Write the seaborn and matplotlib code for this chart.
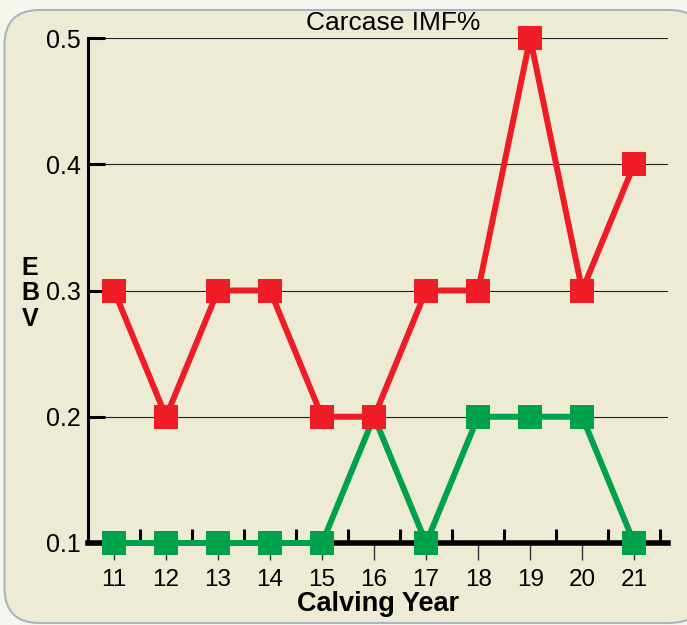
import matplotlib.pyplot as plt
import pandas as pd
import seaborn as sns
from matplotlib.patches import FancyBboxPatch
from matplotlib.transforms import IdentityTransform
from matplotlib.ticker import MultipleLocator

years = [11, 12, 13, 14, 15, 16, 17, 18, 19, 20, 21]
red_ebv = [0.3, 0.2, 0.3, 0.3, 0.2, 0.2, 0.3, 0.3, 0.5, 0.3, 0.4]
green_ebv = [0.1, 0.1, 0.1, 0.1, 0.1, 0.2, 0.1, 0.2, 0.2, 0.2, 0.1]
y_ticks = [0.1, 0.2, 0.3, 0.4, 0.5]

df = pd.concat([
    pd.DataFrame({"year": years, "ebv": green_ebv, "series": "green"}),
    pd.DataFrame({"year": years, "ebv": red_ebv, "series": "red"}),
])

sns.set_style("white")
plt.rcParams["font.family"] = ["Liberation Sans", "DejaVu Sans"]
plt.rcParams["text.color"] = "black"
plt.rcParams["axes.labelcolor"] = "black"
plt.rcParams["xtick.color"] = "black"
plt.rcParams["ytick.color"] = "black"

fig = plt.figure(figsize=(6.87, 6.25), dpi=100, facecolor="#F7F6EE")
# rounded panel behind the chart
panel = FancyBboxPatch((4.5, 2), 700, 613, boxstyle="round,pad=0,rounding_size=35",
                       transform=IdentityTransform(), facecolor="#EEEBD5",
                       edgecolor="#A9B4C2", linewidth=1.5, zorder=-10)
fig.patches.append(panel)

ax = fig.add_axes([88 / 687, 82 / 625, (668 - 88) / 687, 505 / 625])
ax.set_facecolor("none")
ax.set_zorder(1)

sns.lineplot(data=df, x="year", y="ebv", hue="series", hue_order=["green", "red"],
             palette={"green": "#00A14B", "red": "#EE1C25"}, marker="s",
             markersize=17, markeredgewidth=0, linewidth=4.3, legend=False,
             clip_on=False, zorder=4, ax=ax)

ax.set_xlim(10.5, 21.65)
ax.set_ylim(0.1, 0.5)
ax.set_xticks(years)
ax.set_yticks(y_ticks)
ax.xaxis.set_minor_locator(MultipleLocator(1, offset=0.5))
ax.set_yticklabels([f"{v:.1f}" for v in y_ticks])

for s in ["top", "right"]:
    ax.spines[s].set_visible(False)
ax.spines["bottom"].set_linewidth(4)
ax.spines["bottom"].set_color("black")
ax.spines["left"].set_linewidth(2.2)
ax.spines["left"].set_color("black")
ax.spines["bottom"].set_zorder(3)

ax.yaxis.grid(True, color="#222222", linewidth=0.8)
ax.set_axisbelow(True)

ax.tick_params(axis="x", which="major", direction="out", length=12, width=1,
               color="#333333", labelsize=17.5, pad=7, bottom=True)
ax.tick_params(axis="x", which="minor", direction="in", length=10, width=2.2,
               color="black", bottom=True)
ax.tick_params(axis="y", which="major", direction="in", length=12, width=2.2,
               color="black", labelsize=18, pad=5, left=True)

ax.set_xlabel("Calving Year", fontsize=19.5, fontweight="bold", labelpad=0)
ax.set_ylabel("E\nB\nV", rotation=0, fontsize=18, fontweight="bold",
              linespacing=1.08, va="center", ha="center")
ax.yaxis.set_label_coords(-0.10, 0.495)
fig.text(393 / 687, 1 - 23 / 625, "Carcase IMF%", fontsize=19, ha="center", va="center")

fig.savefig("out.png", dpi=100, facecolor=fig.get_facecolor())
